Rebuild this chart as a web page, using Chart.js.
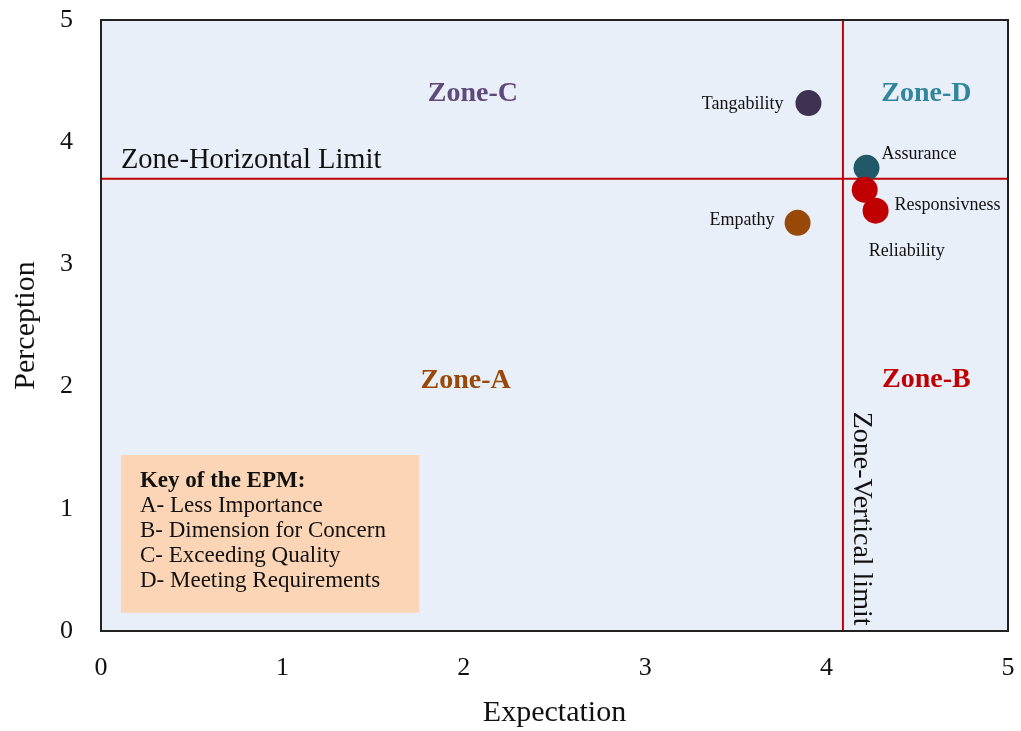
<!DOCTYPE html>
<html>
<head>
<meta charset="utf-8">
<script src="https://cdn.jsdelivr.net/npm/chart.js@4"></script>
<style>
  html, body { margin: 0; padding: 0; background: #fff; }
  #wrap { width: 1021px; height: 731px; }
</style>
</head>
<body>
<div id="wrap"><canvas id="epm"></canvas></div>
<script>
// EPM data
const dimensions = ["Tangability", "Assurance", "Reliability", "Responsivness", "Empathy"];
const expectation = [3.90, 4.22, 4.21, 4.27, 3.84];
const perception = [4.32, 3.79, 3.61, 3.44, 3.34];
const pointColors = ["#3f3151", "#215968", "#c00000", "#c00000", "#984807"];
const xTicks = [0, 1, 2, 3, 4, 5];
const yTicks = [0, 1, 2, 3, 4, 5];
const verticalLimit = 4.09;
const horizontalLimit = 3.70;
const keyLines = ["A- Less Importance", "B- Dimension for Concern", "C- Exceeding Quality", "D- Meeting Requirements"];

const serif = "'Liberation Serif', 'Times New Roman', serif";

// label offsets in px relative to each point: [dx, dy, align]
const labelOffsets = [[-25, 1, "right"], [15, -14, "left"], [4, 61, "left"], [19, -5, "left"], [-23, -3, "right"]];

const zones = [
  { text: "Zone-C", x: 2.05, y: 4.40, color: "#604a7b" },
  { text: "Zone-D", x: 4.55, y: 4.40, color: "#31859c" },
  { text: "Zone-A", x: 2.01, y: 2.05, color: "#984807" },
  { text: "Zone-B", x: 4.55, y: 2.06, color: "#c00000" }
];

const epmPlugin = {
  id: "epm",
  beforeDatasetsDraw(chart) {
    const { ctx, chartArea: a, scales: { x, y } } = chart;
    ctx.save();
    ctx.fillStyle = "#e9eff8";
    ctx.fillRect(a.left, a.top, a.right - a.left, a.bottom - a.top);

    // key box
    const kx = x.getPixelForValue(0.11), ky = y.getPixelForValue(1.44);
    const kw = x.getPixelForValue(1.755) - kx, kh = y.getPixelForValue(0.15) - ky;
    ctx.fillStyle = "#fbd5b5";
    ctx.fillRect(kx, ky, kw, kh);
    ctx.fillStyle = "#111";
    ctx.textBaseline = "middle";
    ctx.textAlign = "left";
    ctx.font = "bold 23px " + serif;
    ctx.fillText("Key of the EPM:", kx + 19, ky + 26);
    ctx.font = "23px " + serif;
    keyLines.forEach((t, i) => ctx.fillText(t, kx + 19, ky + 51 + i * 25));

    // zone names
    ctx.textAlign = "center";
    ctx.font = "bold 28px " + serif;
    zones.forEach(z => {
      ctx.fillStyle = z.color;
      ctx.fillText(z.text, x.getPixelForValue(z.x), y.getPixelForValue(z.y));
    });

    // limit labels
    ctx.fillStyle = "#111";
    ctx.font = "28.5px " + serif;
    ctx.textAlign = "left";
    ctx.fillText("Zone-Horizontal Limit", x.getPixelForValue(0.11), y.getPixelForValue(3.85));
    ctx.translate(x.getPixelForValue(4.19), y.getPixelForValue(0.92));
    ctx.rotate(Math.PI / 2);
    ctx.textAlign = "center";
    ctx.font = "28px " + serif;
    ctx.fillText("Zone-Vertical limit", 0, 0);
    ctx.restore();
  },
  afterDatasetsDraw(chart) {
    const { ctx, chartArea: a } = chart;
    ctx.save();
    const meta = chart.getDatasetMeta(2);
    ctx.font = "18px " + serif;
    ctx.fillStyle = "#111";
    ctx.textBaseline = "middle";
    meta.data.forEach((pt, i) => {
      const [dx, dy, align] = labelOffsets[i];
      ctx.textAlign = align;
      ctx.fillText(dimensions[i], pt.x + dx, pt.y + dy);
    });
    ctx.strokeStyle = "#222";
    ctx.lineWidth = 2;
    ctx.strokeRect(a.left, a.top, a.right - a.left, a.bottom - a.top);
    ctx.restore();
  }
};

new Chart(document.getElementById("epm"), {
  type: "scatter",
  data: {
    datasets: [
      {
        label: "Horizontal limit",
        data: [{ x: 0, y: horizontalLimit }, { x: 5, y: horizontalLimit }],
        showLine: true, borderColor: "#c00000", borderWidth: 2, pointRadius: 0, order: 3
      },
      {
        label: "Vertical limit",
        data: [{ x: verticalLimit, y: 0 }, { x: verticalLimit, y: 5 }],
        showLine: true, borderColor: "#c00000", borderWidth: 2, pointRadius: 0, order: 2
      },
      {
        label: "Dimensions",
        data: dimensions.map((d, i) => ({ x: expectation[i], y: perception[i] })),
        backgroundColor: pointColors, borderWidth: 0, pointRadius: 13, pointHoverRadius: 13, order: 1
      }
    ]
  },
  options: {
    responsive: true,
    maintainAspectRatio: false,
    animation: false,
    layout: { padding: { top: 20, right: 9, left: 0, bottom: 0 } },
    plugins: { legend: { display: false }, tooltip: { enabled: false } },
    scales: {
      x: {
        type: "linear", min: 0, max: 5,
        afterBuildTicks: s => { s.ticks = xTicks.map(v => ({ value: v })); },
        afterFit: s => { s.height = 100; s.paddingLeft = 0; s.paddingRight = 0; },
        grid: { display: false, drawTicks: false },
        border: { display: false },
        ticks: { padding: 22, color: "#111", font: { family: serif, size: 26 } },
        title: { display: true, text: "Expectation", color: "#111", font: { family: serif, size: 30 }, padding: { top: 0, bottom: 0 } }
      },
      y: {
        type: "linear", min: 0, max: 5,
        afterBuildTicks: s => { s.ticks = yTicks.map(v => ({ value: v })); },
        afterFit: s => { s.width = 101; s.paddingTop = 0; s.paddingBottom = 0; },
        grid: { display: false, drawTicks: false },
        border: { display: false },
        ticks: { padding: 28, color: "#111", font: { family: serif, size: 26 } },
        title: { display: true, text: "Perception", color: "#111", font: { family: serif, size: 30 }, padding: { top: 8, bottom: 0 } }
      }
    }
  },
  plugins: [epmPlugin]
});
</script>
</body>
</html>
